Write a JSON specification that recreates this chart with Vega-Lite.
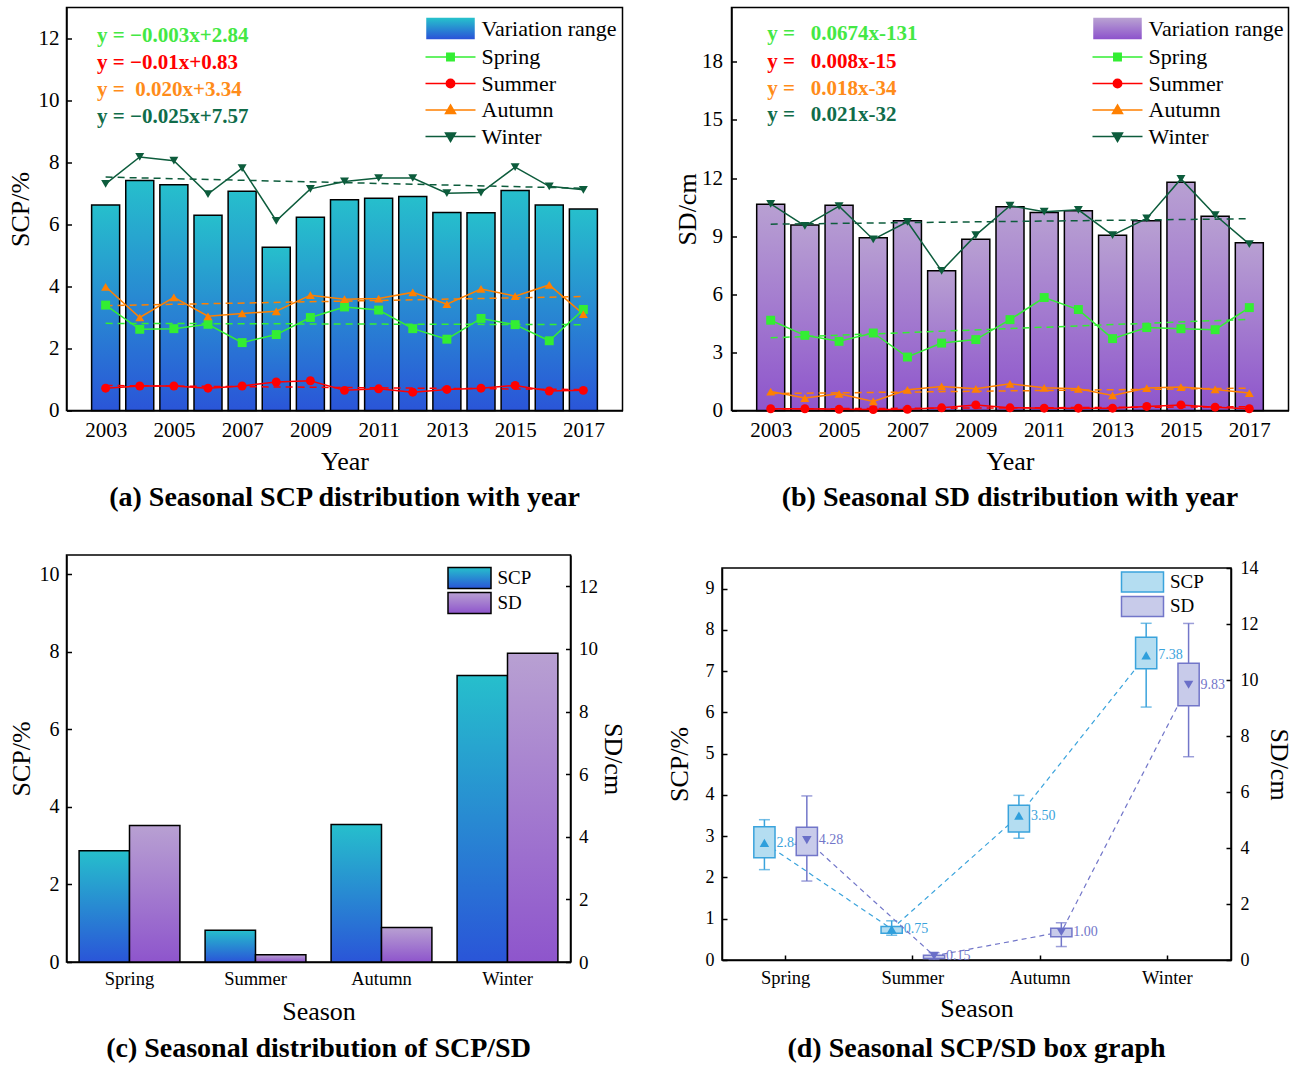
{
  "$schema": "https://vega.github.io/schema/vega-lite/v6.json",
  "padding": {"left": 5.5, "top": 6.5, "right": 5, "bottom": 5},
  "spacing": 40.5,
  "resolve": {"scale": {"x": "independent", "y": "independent", "color": "independent", "shape": "independent", "fill": "independent", "stroke": "independent", "xOffset": "independent"}, "legend": {"color": "independent", "fill": "independent", "stroke": "independent"}},
  "config": {
    "font": "Liberation Serif",
    "view": {"stroke": "black", "strokeWidth": 1.5},
    "axis": {"labelFont": "Liberation Serif", "titleFont": "Liberation Serif", "labelFontSize": 21, "titleFontSize": 26, "titleFontWeight": "normal", "labelColor": "black", "titleColor": "black", "domainColor": "black", "tickColor": "black", "domainWidth": 1.5, "tickWidth": 1.5, "tickSize": -5, "grid": false},
    "axisX": {"labelPadding": 13.5, "titlePadding": 8},
    "axisY": {"labelPadding": 12.5, "titlePadding": 5},
    "title": {"font": "Liberation Serif", "fontSize": 28, "fontWeight": "bold", "color": "black", "orient": "bottom", "offset": 10},
    "legend": {"labelFont": "Liberation Serif", "labelColor": "black"}
  },
  "datasets": {
    "a_bar": [
      {"year": 2003, "v": 6.63}, {"year": 2004, "v": 7.42}, {"year": 2005, "v": 7.28}, {"year": 2006, "v": 6.30}, {"year": 2007, "v": 7.07},
      {"year": 2008, "v": 5.27}, {"year": 2009, "v": 6.23}, {"year": 2010, "v": 6.80}, {"year": 2011, "v": 6.85}, {"year": 2012, "v": 6.90},
      {"year": 2013, "v": 6.39}, {"year": 2014, "v": 6.38}, {"year": 2015, "v": 7.10}, {"year": 2016, "v": 6.63}, {"year": 2017, "v": 6.50}
    ],
    "a_line": [
      {"year": 2003, "season": "Spring", "v": 3.40}, {"year": 2004, "season": "Spring", "v": 2.62}, {"year": 2005, "season": "Spring", "v": 2.64}, {"year": 2006, "season": "Spring", "v": 2.78}, {"year": 2007, "season": "Spring", "v": 2.19},
      {"year": 2008, "season": "Spring", "v": 2.45}, {"year": 2009, "season": "Spring", "v": 3.00}, {"year": 2010, "season": "Spring", "v": 3.34}, {"year": 2011, "season": "Spring", "v": 3.24}, {"year": 2012, "season": "Spring", "v": 2.64},
      {"year": 2013, "season": "Spring", "v": 2.30}, {"year": 2014, "season": "Spring", "v": 2.97}, {"year": 2015, "season": "Spring", "v": 2.77}, {"year": 2016, "season": "Spring", "v": 2.25}, {"year": 2017, "season": "Spring", "v": 3.26},
      {"year": 2003, "season": "Summer", "v": 0.72}, {"year": 2004, "season": "Summer", "v": 0.79}, {"year": 2005, "season": "Summer", "v": 0.79}, {"year": 2006, "season": "Summer", "v": 0.72}, {"year": 2007, "season": "Summer", "v": 0.79},
      {"year": 2008, "season": "Summer", "v": 0.92}, {"year": 2009, "season": "Summer", "v": 0.96}, {"year": 2010, "season": "Summer", "v": 0.65}, {"year": 2011, "season": "Summer", "v": 0.70}, {"year": 2012, "season": "Summer", "v": 0.59},
      {"year": 2013, "season": "Summer", "v": 0.68}, {"year": 2014, "season": "Summer", "v": 0.72}, {"year": 2015, "season": "Summer", "v": 0.81}, {"year": 2016, "season": "Summer", "v": 0.63}, {"year": 2017, "season": "Summer", "v": 0.65},
      {"year": 2003, "season": "Autumn", "v": 3.99}, {"year": 2004, "season": "Autumn", "v": 3.00}, {"year": 2005, "season": "Autumn", "v": 3.65}, {"year": 2006, "season": "Autumn", "v": 3.04}, {"year": 2007, "season": "Autumn", "v": 3.13},
      {"year": 2008, "season": "Autumn", "v": 3.20}, {"year": 2009, "season": "Autumn", "v": 3.72}, {"year": 2010, "season": "Autumn", "v": 3.59}, {"year": 2011, "season": "Autumn", "v": 3.61}, {"year": 2012, "season": "Autumn", "v": 3.81},
      {"year": 2013, "season": "Autumn", "v": 3.43}, {"year": 2014, "season": "Autumn", "v": 3.92}, {"year": 2015, "season": "Autumn", "v": 3.69}, {"year": 2016, "season": "Autumn", "v": 4.05}, {"year": 2017, "season": "Autumn", "v": 3.11},
      {"year": 2003, "season": "Winter", "v": 7.31}, {"year": 2004, "season": "Winter", "v": 8.18}, {"year": 2005, "season": "Winter", "v": 8.06}, {"year": 2006, "season": "Winter", "v": 6.98}, {"year": 2007, "season": "Winter", "v": 7.82},
      {"year": 2008, "season": "Winter", "v": 6.12}, {"year": 2009, "season": "Winter", "v": 7.15}, {"year": 2010, "season": "Winter", "v": 7.39}, {"year": 2011, "season": "Winter", "v": 7.50}, {"year": 2012, "season": "Winter", "v": 7.50},
      {"year": 2013, "season": "Winter", "v": 7.01}, {"year": 2014, "season": "Winter", "v": 7.03}, {"year": 2015, "season": "Winter", "v": 7.85}, {"year": 2016, "season": "Winter", "v": 7.23}, {"year": 2017, "season": "Winter", "v": 7.12}
    ],
    "b_bar": [
      {"year": 2003, "v": 10.64}, {"year": 2004, "v": 9.57}, {"year": 2005, "v": 10.59}, {"year": 2006, "v": 8.91}, {"year": 2007, "v": 9.79},
      {"year": 2008, "v": 7.21}, {"year": 2009, "v": 8.84}, {"year": 2010, "v": 10.52}, {"year": 2011, "v": 10.22}, {"year": 2012, "v": 10.31},
      {"year": 2013, "v": 9.05}, {"year": 2014, "v": 9.79}, {"year": 2015, "v": 11.78}, {"year": 2016, "v": 10.02}, {"year": 2017, "v": 8.66}
    ],
    "b_line": [
      {"year": 2003, "season": "Spring", "v": 4.66}, {"year": 2004, "season": "Spring", "v": 3.88}, {"year": 2005, "season": "Spring", "v": 3.57}, {"year": 2006, "season": "Spring", "v": 4.00}, {"year": 2007, "season": "Spring", "v": 2.76},
      {"year": 2008, "season": "Spring", "v": 3.48}, {"year": 2009, "season": "Spring", "v": 3.66}, {"year": 2010, "season": "Spring", "v": 4.69}, {"year": 2011, "season": "Spring", "v": 5.83}, {"year": 2012, "season": "Spring", "v": 5.21},
      {"year": 2013, "season": "Spring", "v": 3.71}, {"year": 2014, "season": "Spring", "v": 4.28}, {"year": 2015, "season": "Spring", "v": 4.22}, {"year": 2016, "season": "Spring", "v": 4.17}, {"year": 2017, "season": "Spring", "v": 5.31},
      {"year": 2003, "season": "Summer", "v": 0.09}, {"year": 2004, "season": "Summer", "v": 0.09}, {"year": 2005, "season": "Summer", "v": 0.06}, {"year": 2006, "season": "Summer", "v": 0.05}, {"year": 2007, "season": "Summer", "v": 0.06},
      {"year": 2008, "season": "Summer", "v": 0.14}, {"year": 2009, "season": "Summer", "v": 0.29}, {"year": 2010, "season": "Summer", "v": 0.14}, {"year": 2011, "season": "Summer", "v": 0.12}, {"year": 2012, "season": "Summer", "v": 0.12},
      {"year": 2013, "season": "Summer", "v": 0.12}, {"year": 2014, "season": "Summer", "v": 0.21}, {"year": 2015, "season": "Summer", "v": 0.29}, {"year": 2016, "season": "Summer", "v": 0.17}, {"year": 2017, "season": "Summer", "v": 0.09},
      {"year": 2003, "season": "Autumn", "v": 0.98}, {"year": 2004, "season": "Autumn", "v": 0.64}, {"year": 2005, "season": "Autumn", "v": 0.86}, {"year": 2006, "season": "Autumn", "v": 0.47}, {"year": 2007, "season": "Autumn", "v": 1.07},
      {"year": 2008, "season": "Autumn", "v": 1.24}, {"year": 2009, "season": "Autumn", "v": 1.12}, {"year": 2010, "season": "Autumn", "v": 1.38}, {"year": 2011, "season": "Autumn", "v": 1.17}, {"year": 2012, "season": "Autumn", "v": 1.12},
      {"year": 2013, "season": "Autumn", "v": 0.78}, {"year": 2014, "season": "Autumn", "v": 1.16}, {"year": 2015, "season": "Autumn", "v": 1.21}, {"year": 2016, "season": "Autumn", "v": 1.09}, {"year": 2017, "season": "Autumn", "v": 0.90},
      {"year": 2003, "season": "Winter", "v": 10.66}, {"year": 2004, "season": "Winter", "v": 9.53}, {"year": 2005, "season": "Winter", "v": 10.55}, {"year": 2006, "season": "Winter", "v": 8.83}, {"year": 2007, "season": "Winter", "v": 9.74},
      {"year": 2008, "season": "Winter", "v": 7.21}, {"year": 2009, "season": "Winter", "v": 9.05}, {"year": 2010, "season": "Winter", "v": 10.57}, {"year": 2011, "season": "Winter", "v": 10.26}, {"year": 2012, "season": "Winter", "v": 10.36},
      {"year": 2013, "season": "Winter", "v": 9.05}, {"year": 2014, "season": "Winter", "v": 9.91}, {"year": 2015, "season": "Winter", "v": 11.95}, {"year": 2016, "season": "Winter", "v": 10.09}, {"year": 2017, "season": "Winter", "v": 8.59}
    ],
    "c": [
      {"season": "Spring", "series": "SCP", "v": 2.87}, {"season": "Spring", "series": "SD", "v": 4.36},
      {"season": "Summer", "series": "SCP", "v": 0.82}, {"season": "Summer", "series": "SD", "v": 0.23},
      {"season": "Autumn", "series": "SCP", "v": 3.55}, {"season": "Autumn", "series": "SD", "v": 1.10},
      {"season": "Winter", "series": "SCP", "v": 7.39}, {"season": "Winter", "series": "SD", "v": 9.86}
    ],
    "d": [
      {"season": "Spring", "series": "SCP", "lo": 2.19, "q1": 2.48, "q3": 3.23, "hi": 3.40, "mean": 2.84},
      {"season": "Summer", "series": "SCP", "lo": 0.60, "q1": 0.65, "q3": 0.81, "hi": 0.95, "mean": 0.75},
      {"season": "Autumn", "series": "SCP", "lo": 2.95, "q1": 3.10, "q3": 3.75, "hi": 3.99, "mean": 3.50},
      {"season": "Winter", "series": "SCP", "lo": 6.13, "q1": 7.06, "q3": 7.82, "hi": 8.16, "mean": 7.38},
      {"season": "Spring", "series": "SD", "lo": 2.82, "q1": 3.73, "q3": 4.74, "hi": 5.86, "mean": 4.28},
      {"season": "Summer", "series": "SD", "lo": 0.02, "q1": 0.05, "q3": 0.17, "hi": 0.26, "mean": 0.15},
      {"season": "Autumn", "series": "SD", "lo": 0.48, "q1": 0.83, "q3": 1.13, "hi": 1.33, "mean": 1.00},
      {"season": "Winter", "series": "SD", "lo": 7.26, "q1": 9.08, "q3": 10.60, "hi": 12.02, "mean": 9.83}
    ]
  },
  "vconcat": [
    {
      "spacing": 50,
      "resolve": {"scale": {"x": "independent", "y": "independent", "color": "independent", "shape": "independent"}, "legend": {"color": "independent", "shape": "independent"}},
      "hconcat": [
        {
          "width": 556, "height": 403,
          "title": {"text": "(a) Seasonal SCP distribution with year"},
          "layer": [
            {
              "data": {"name": "a_bar"},
              "mark": {"type": "bar", "width": 28, "stroke": "black", "strokeWidth": 1.5,
                "fill": {"gradient": "linear", "x1": 0, "y1": 0, "x2": 0, "y2": 1, "stops": [{"offset": 0, "color": "#26bfcc"}, {"offset": 1, "color": "#2a55d8"}]}},
              "encoding": {
                "x": {"field": "year", "type": "quantitative", "scale": {"domain": [2002, 2018], "nice": false, "zero": false}, "axis": {"values": [2003, 2005, 2007, 2009, 2011, 2013, 2015, 2017], "format": "d", "title": "Year"}},
                "y": {"field": "v", "type": "quantitative", "scale": {"domain": [0, 13], "nice": false}, "axis": {"values": [0, 2, 4, 6, 8, 10, 12], "title": "SCP/%"}}
              }
            },
            {
              "data": {"name": "a_line"},
              "transform": [{"regression": "v", "on": "year", "groupby": ["season"]}],
              "mark": {"type": "line", "strokeDash": [7, 5], "strokeWidth": 1.5},
              "encoding": {
                "x": {"field": "year", "type": "quantitative"},
                "y": {"field": "v", "type": "quantitative"},
                "color": {"field": "season", "type": "nominal"}
              }
            },
            {
              "data": {"name": "a_line"},
              "mark": {"type": "line", "strokeWidth": 1.5},
              "encoding": {
                "x": {"field": "year", "type": "quantitative"},
                "y": {"field": "v", "type": "quantitative"},
                "color": {"field": "season", "type": "nominal",
                  "scale": {"domain": ["Variation range", "Spring", "Summer", "Autumn", "Winter"],
                    "range": [{"expr": "{gradient: 'linear', x1: 0, y1: 0, x2: 0, y2: 1, stops: [{offset: 0, color: '#26bfcc'}, {offset: 1, color: '#2a55d8'}]}"}, "#33ee33", "#ff0000", "#ff8000", "#0d5c3c"]},
                  "legend": {"title": null, "orient": "none", "legendX": 373, "legendY": 10, "padding": 0, "symbolSize": 400, "symbolStrokeWidth": 1.5, "labelFontSize": 22, "labelOffset": 20, "rowPadding": 4.5,
                    "encode": {"symbols": {"update": {
                      "shape": {"signal": "datum.value === 'Variation range' ? 'M-2.35,-1H2.35V1H-2.35Z' : datum.value === 'Spring' ? 'M-2.5,0H2.5M-0.37,-0.37H0.37V0.37H-0.37Z' : datum.value === 'Summer' ? 'M-2.5,0H2.5M-0.42,0A0.42,0.42 0 1,0 0.42,0A0.42,0.42 0 1,0 -0.42,0Z' : datum.value === 'Autumn' ? 'M-2.5,0H2.5M0,-0.5L0.5,0.35H-0.5Z' : 'M-2.5,0H2.5M0,0.5L0.5,-0.35H-0.5Z'"},
                      "stroke": {"signal": "datum.value === 'Variation range' ? 'black' : datum.value === 'Spring' ? '#33ee33' : datum.value === 'Summer' ? '#ff0000' : datum.value === 'Autumn' ? '#ff8000' : '#0d5c3c'"},
                      "strokeWidth": {"value": 1.5},
                      "opacity": {"value": 1}
                    }}}}
                }
              }
            },
            {
              "data": {"name": "a_line"},
              "mark": {"type": "point", "filled": true, "size": 80, "opacity": 1},
              "encoding": {
                "x": {"field": "year", "type": "quantitative"},
                "y": {"field": "v", "type": "quantitative"},
                "color": {"field": "season", "type": "nominal"},
                "shape": {"field": "season", "type": "nominal", "scale": {"domain": ["Spring", "Summer", "Autumn", "Winter"], "range": ["square", "circle", "triangle-up", "triangle-down"]}, "legend": null}
              }
            },
            {"data": {"values": [{}]}, "mark": {"type": "text", "text": "y = \u22120.003x+2.84", "align": "left", "baseline": "middle", "fontSize": 21, "fontWeight": "bold", "color": "#44e844"},
             "encoding": {"x": {"datum": 2002.75, "type": "quantitative"}, "y": {"datum": 12.07, "type": "quantitative"}}},
            {"data": {"values": [{}]}, "mark": {"type": "text", "text": "y = \u22120.01x+0.83", "align": "left", "baseline": "middle", "fontSize": 21, "fontWeight": "bold", "color": "#ff0000"},
             "encoding": {"x": {"datum": 2002.75, "type": "quantitative"}, "y": {"datum": 11.2, "type": "quantitative"}}},
            {"data": {"values": [{}]}, "mark": {"type": "text", "text": "y = \u00a00.020x+3.34", "align": "left", "baseline": "middle", "fontSize": 21, "fontWeight": "bold", "color": "#ff8c1a"},
             "encoding": {"x": {"datum": 2002.75, "type": "quantitative"}, "y": {"datum": 10.33, "type": "quantitative"}}},
            {"data": {"values": [{}]}, "mark": {"type": "text", "text": "y = \u22120.025x+7.57", "align": "left", "baseline": "middle", "fontSize": 21, "fontWeight": "bold", "color": "#106c4a"},
             "encoding": {"x": {"datum": 2002.75, "type": "quantitative"}, "y": {"datum": 9.46, "type": "quantitative"}}}
          ]
        },
        {
          "width": 557, "height": 403,
          "title": {"text": "(b) Seasonal SD distribution with year"},
          "layer": [
            {
              "data": {"name": "b_bar"},
              "mark": {"type": "bar", "width": 28, "stroke": "black", "strokeWidth": 1.5,
                "fill": {"gradient": "linear", "x1": 0, "y1": 0, "x2": 0, "y2": 1, "stops": [{"offset": 0, "color": "#b8a0d2"}, {"offset": 1, "color": "#8e55cc"}]}},
              "encoding": {
                "x": {"field": "year", "type": "quantitative", "scale": {"domain": [2002, 2018], "nice": false, "zero": false}, "axis": {"values": [2003, 2005, 2007, 2009, 2011, 2013, 2015, 2017], "format": "d", "title": "Year"}},
                "y": {"field": "v", "type": "quantitative", "scale": {"domain": [0, 20.8], "nice": false}, "axis": {"values": [0, 3, 6, 9, 12, 15, 18], "title": "SD/cm", "labelPadding": 14, "titlePadding": 1}}
              }
            },
            {
              "data": {"name": "b_line"},
              "transform": [{"regression": "v", "on": "year", "groupby": ["season"]}],
              "mark": {"type": "line", "strokeDash": [7, 5], "strokeWidth": 1.5},
              "encoding": {
                "x": {"field": "year", "type": "quantitative"},
                "y": {"field": "v", "type": "quantitative"},
                "color": {"field": "season", "type": "nominal"}
              }
            },
            {
              "data": {"name": "b_line"},
              "mark": {"type": "line", "strokeWidth": 1.5},
              "encoding": {
                "x": {"field": "year", "type": "quantitative"},
                "y": {"field": "v", "type": "quantitative"},
                "color": {"field": "season", "type": "nominal",
                  "scale": {"domain": ["Variation range", "Spring", "Summer", "Autumn", "Winter"],
                    "range": [{"expr": "{gradient: 'linear', x1: 0, y1: 0, x2: 0, y2: 1, stops: [{offset: 0, color: '#b8a0d2'}, {offset: 1, color: '#8e55cc'}]}"}, "#33ee33", "#ff0000", "#ff8000", "#0d5c3c"]},
                  "legend": {"title": null, "orient": "none", "legendX": 375, "legendY": 10, "padding": 0, "symbolSize": 400, "symbolStrokeWidth": 1.5, "labelFontSize": 22, "labelOffset": 20, "rowPadding": 4.5,
                    "encode": {"symbols": {"update": {
                      "shape": {"signal": "datum.value === 'Variation range' ? 'M-2.35,-1H2.35V1H-2.35Z' : datum.value === 'Spring' ? 'M-2.5,0H2.5M-0.37,-0.37H0.37V0.37H-0.37Z' : datum.value === 'Summer' ? 'M-2.5,0H2.5M-0.42,0A0.42,0.42 0 1,0 0.42,0A0.42,0.42 0 1,0 -0.42,0Z' : datum.value === 'Autumn' ? 'M-2.5,0H2.5M0,-0.5L0.5,0.35H-0.5Z' : 'M-2.5,0H2.5M0,0.5L0.5,-0.35H-0.5Z'"},
                      "stroke": {"signal": "datum.value === 'Variation range' ? 'black' : datum.value === 'Spring' ? '#33ee33' : datum.value === 'Summer' ? '#ff0000' : datum.value === 'Autumn' ? '#ff8000' : '#0d5c3c'"},
                      "strokeWidth": {"value": 1.5},
                      "opacity": {"value": 1}
                    }}}}
                }
              }
            },
            {
              "data": {"name": "b_line"},
              "mark": {"type": "point", "filled": true, "size": 80, "opacity": 1},
              "encoding": {
                "x": {"field": "year", "type": "quantitative"},
                "y": {"field": "v", "type": "quantitative"},
                "color": {"field": "season", "type": "nominal"},
                "shape": {"field": "season", "type": "nominal", "scale": {"domain": ["Spring", "Summer", "Autumn", "Winter"], "range": ["square", "circle", "triangle-up", "triangle-down"]}, "legend": null}
              }
            },
            {"data": {"values": [{}]}, "mark": {"type": "text", "text": "y =\u00a0\u00a0 0.0674x-131", "align": "left", "baseline": "middle", "fontSize": 21, "fontWeight": "bold", "color": "#44e844"},
             "encoding": {"x": {"datum": 2002.9, "type": "quantitative"}, "y": {"datum": 19.42, "type": "quantitative"}}},
            {"data": {"values": [{}]}, "mark": {"type": "text", "text": "y =\u00a0\u00a0 0.008x-15", "align": "left", "baseline": "middle", "fontSize": 21, "fontWeight": "bold", "color": "#ff0000"},
             "encoding": {"x": {"datum": 2002.9, "type": "quantitative"}, "y": {"datum": 17.99, "type": "quantitative"}}},
            {"data": {"values": [{}]}, "mark": {"type": "text", "text": "y =\u00a0\u00a0 0.018x-34", "align": "left", "baseline": "middle", "fontSize": 21, "fontWeight": "bold", "color": "#ff8c1a"},
             "encoding": {"x": {"datum": 2002.9, "type": "quantitative"}, "y": {"datum": 16.6, "type": "quantitative"}}},
            {"data": {"values": [{}]}, "mark": {"type": "text", "text": "y =\u00a0\u00a0 0.021x-32", "align": "left", "baseline": "middle", "fontSize": 21, "fontWeight": "bold", "color": "#106c4a"},
             "encoding": {"x": {"datum": 2002.9, "type": "quantitative"}, "y": {"datum": 15.24, "type": "quantitative"}}}
          ]
        }
      ]
    },
    {
      "spacing": 38.5,
      "resolve": {"scale": {"x": "independent", "y": "independent", "fill": "independent", "stroke": "independent", "xOffset": "independent"}, "legend": {"fill": "independent", "stroke": "independent"}},
      "hconcat": [
        {
          "width": 504, "height": 407,
          "title": {"text": "(c) Seasonal distribution of SCP/SD", "offset": 10},
          "data": {"name": "c"},
          "encoding": {
            "x": {"field": "season", "type": "nominal", "sort": ["Spring", "Summer", "Autumn", "Winter"], "scale": {"paddingInner": 0.2, "paddingOuter": 0.1}, "axis": {"labelAngle": 0, "title": "Season", "labelFontSize": 18.5, "labelPadding": 12, "titlePadding": 11}},
            "xOffset": {"field": "series", "type": "nominal", "scale": {"domain": ["SCP", "SD"], "paddingInner": 0, "paddingOuter": 0}},
            "fill": {"field": "series", "type": "nominal",
              "scale": {"domain": ["SCP", "SD"], "range": [
                {"expr": "{gradient: 'linear', x1: 0, y1: 0, x2: 0, y2: 1, stops: [{offset: 0, color: '#26bfcc'}, {offset: 1, color: '#2a55d8'}]}"},
                {"expr": "{gradient: 'linear', x1: 0, y1: 0, x2: 0, y2: 1, stops: [{offset: 0, color: '#b8a0d2'}, {offset: 1, color: '#8e55cc'}]}"}]},
              "legend": {"title": null, "orient": "none", "legendX": 392, "legendY": 12, "padding": 0, "symbolSize": 400, "symbolStrokeWidth": 1.5, "symbolType": "M-2.15,-1.05H2.15V1.05H-2.15Z", "symbolStrokeColor": "black", "labelFontSize": 19, "labelOffset": 17, "rowPadding": -3.5,
                "encode": {"symbols": {"update": {"stroke": {"value": "black"}, "strokeWidth": {"value": 1.5}, "opacity": {"value": 1}}}}}
            }
          },
          "layer": [
            {
              "transform": [{"filter": "datum.series === 'SCP'"}],
              "mark": {"type": "bar", "strokeWidth": 1.5, "stroke": "black"},
              "encoding": {
                "y": {"field": "v", "type": "quantitative", "scale": {"domain": [0, 10.5], "nice": false}, "axis": {"values": [0, 2, 4, 6, 8, 10], "title": "SCP/%", "labelFontSize": 20}}
              }
            },
            {
              "transform": [{"filter": "datum.series === 'SD'"}],
              "mark": {"type": "bar", "strokeWidth": 1.5, "stroke": "black"},
              "encoding": {
                "y": {"field": "v", "type": "quantitative", "scale": {"domain": [0, 13], "nice": false}, "axis": {"orient": "right", "values": [0, 2, 4, 6, 8, 10, 12], "title": "SD/cm", "labelFontSize": 19, "labelPadding": 13, "titlePadding": 2}}
              }
            }
          ],
          "resolve": {"scale": {"y": "independent"}}
        },
        {
          "spacing": 0,
          "vconcat": [
            {
              "width": 509, "height": 3,
              "view": {"stroke": null},
              "data": {"values": [{}]},
              "mark": {"type": "point", "opacity": 0, "size": 1}
            },
            {
              "width": 509, "height": 392,
              "title": {"text": "(d) Seasonal SCP/SD box graph", "offset": 14},
              "data": {"name": "d"},
              "encoding": {
                "x": {"field": "season", "type": "nominal", "sort": ["Spring", "Summer", "Autumn", "Winter"], "scale": {"paddingInner": 0, "paddingOuter": 0}, "axis": {"labelAngle": 0, "title": "Season", "labelFontSize": 18.5, "labelPadding": 13, "titlePadding": 8.5}},
                "xOffset": {"field": "series", "type": "nominal", "scale": {"domain": ["SCP", "SD"], "paddingInner": 0.5, "paddingOuter": 0.75}}
              },
              "layer": [
                {
                  "transform": [{"filter": "datum.series === 'SCP'"}],
                  "layer": [
                    {"mark": {"type": "line", "strokeDash": [5, 4], "strokeWidth": 1.2, "color": "#3aa3dc"},
                     "encoding": {"y": {"field": "mean", "type": "quantitative", "scale": {"domain": [0, 9.5], "nice": false}, "axis": {"values": [0, 1, 2, 3, 4, 5, 6, 7, 8, 9], "title": "SCP/%", "labelFontSize": 18, "labelPadding": 13, "titlePadding": 13}}, "order": {"value": null}}},
                    {"mark": {"type": "rule", "color": "#3aa3dc", "strokeWidth": 1.5},
                     "encoding": {"y": {"field": "lo", "type": "quantitative"}, "y2": {"field": "hi"}}},
                    {"mark": {"type": "tick", "color": "#3aa3dc", "size": 11, "thickness": 1.5, "orient": "horizontal"},
                     "encoding": {"y": {"field": "lo", "type": "quantitative"}}},
                    {"mark": {"type": "tick", "color": "#3aa3dc", "size": 11, "thickness": 1.5, "orient": "horizontal"},
                     "encoding": {"y": {"field": "hi", "type": "quantitative"}}},
                    {"mark": {"type": "bar", "strokeWidth": 1.5},
                     "encoding": {"y": {"field": "q1", "type": "quantitative"}, "y2": {"field": "q3"},
                       "fill": {"field": "series", "type": "nominal", "scale": {"domain": ["SCP", "SD"], "range": ["#b4ddf1", "#c8cbea"]},
                         "legend": {"title": null, "orient": "none", "legendX": 409.5, "legendY": 16, "padding": 0, "symbolSize": 400, "symbolStrokeWidth": 1.5, "symbolType": "M-2.1,-1H2.1V1H-2.1Z", "labelFontSize": 19, "labelOffset": 16.5, "rowPadding": -1.6,
                           "encode": {"symbols": {"update": {"strokeWidth": {"value": 1.5}, "opacity": {"value": 1}}}}}},
                       "stroke": {"field": "series", "type": "nominal", "scale": {"domain": ["SCP", "SD"], "range": ["#3aa3dc", "#7276c9"]}}}},
                    {"mark": {"type": "point", "shape": "triangle-up", "filled": true, "size": 90, "color": "#2f9fdc", "opacity": 1},
                     "encoding": {"y": {"field": "mean", "type": "quantitative"}}},
                    {"mark": {"type": "text", "align": "left", "baseline": "middle", "dx": 12, "fontSize": 14, "color": "#3aa3dc"},
                     "encoding": {"y": {"field": "mean", "type": "quantitative"}, "text": {"field": "mean", "type": "quantitative", "format": ".2f"}}}
                  ]
                },
                {
                  "transform": [{"filter": "datum.series === 'SD'"}],
                  "layer": [
                    {"mark": {"type": "line", "strokeDash": [5, 4], "strokeWidth": 1.2, "color": "#7276c9"},
                     "encoding": {"y": {"field": "mean", "type": "quantitative", "scale": {"domain": [0, 14], "nice": false}, "axis": {"orient": "right", "values": [0, 2, 4, 6, 8, 10, 12, 14], "title": "SD/cm", "labelFontSize": 18, "labelPadding": 14, "titlePadding": 7}}, "order": {"value": null}}},
                    {"mark": {"type": "rule", "color": "#7276c9", "strokeWidth": 1.5},
                     "encoding": {"y": {"field": "lo", "type": "quantitative"}, "y2": {"field": "hi"}}},
                    {"mark": {"type": "tick", "color": "#7276c9", "size": 11, "thickness": 1.5, "orient": "horizontal"},
                     "encoding": {"y": {"field": "lo", "type": "quantitative"}}},
                    {"mark": {"type": "tick", "color": "#7276c9", "size": 11, "thickness": 1.5, "orient": "horizontal"},
                     "encoding": {"y": {"field": "hi", "type": "quantitative"}}},
                    {"mark": {"type": "bar", "strokeWidth": 1.5},
                     "encoding": {"y": {"field": "q1", "type": "quantitative"}, "y2": {"field": "q3"},
                       "fill": {"field": "series", "type": "nominal"},
                       "stroke": {"field": "series", "type": "nominal"}}},
                    {"mark": {"type": "point", "shape": "triangle-down", "filled": true, "size": 90, "color": "#6a6fc8", "opacity": 1},
                     "encoding": {"y": {"field": "mean", "type": "quantitative"}}},
                    {"mark": {"type": "text", "align": "left", "baseline": "middle", "dx": 12, "fontSize": 14, "color": "#7276c9"},
                     "encoding": {"y": {"field": "mean", "type": "quantitative"}, "text": {"field": "mean", "type": "quantitative", "format": ".2f"}}}
                  ]
                }
              ],
              "resolve": {"scale": {"y": "independent"}}
            }
          ]
        }
      ]
    }
  ]
}
